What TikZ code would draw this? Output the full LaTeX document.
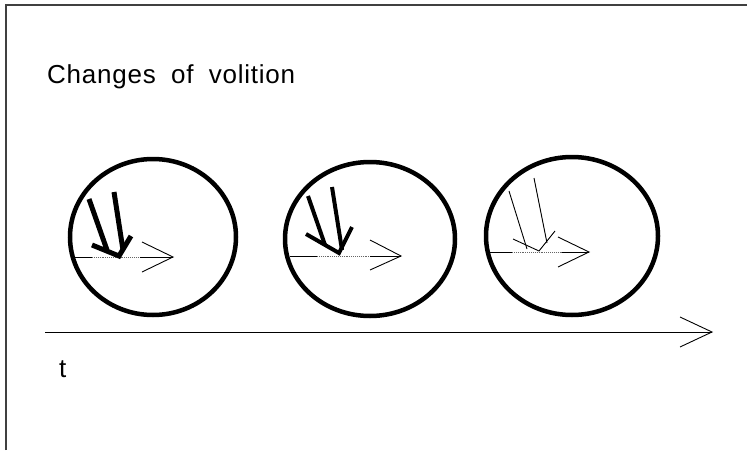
\documentclass[tikz,border=0pt]{standalone}
\usepackage{fontspec}
\setmainfont{Liberation Sans}[LetterSpace=3,WordSpace=1.9]
\usetikzlibrary{shapes.geometric}
\begin{document}
\begin{tikzpicture}[x=1pt,y=-1pt,
  frameline/.style={draw=black!75, line width=1.5pt},
  ring/.style={ellipse, draw=black, line width=4.5pt, inner sep=0pt},
  thin/.style={draw=black, line width=0.9pt},
  dots/.style={draw=black!60, line width=0.9pt, densely dotted},
  lbl/.style={font=\fontsize{26}{30}\selectfont, inner sep=0pt, anchor=base west}]
\useasboundingbox (0,0) rectangle (747,450);
\fill[white] (0,0) rectangle (747,450);
% frame
\coordinate (fbl) at (6,450);
\coordinate (ftl) at (6,5);
\coordinate (ftr) at (747,5);
\draw[frameline] (fbl) -- (ftl) -- (ftr);
% labels
\node[lbl] (title) at (47,83) {Changes of volition};
\node[lbl] (tlab) at (59,377) {t};
% timeline
\coordinate (t0) at (45,332);
\coordinate (t1) at (712,332);
\coordinate (tb1) at (680,317);
\coordinate (tb2) at (680,347);
\draw[thin] (t0) -- (t1);
\draw[thin] (tb1) -- (t1) -- (tb2);
% circles
\node[ring, minimum width=166pt, minimum height=156pt] (c1) at (153,237) {};
\node[ring, minimum width=170pt, minimum height=154pt] (c2) at (370,239) {};
\node[ring, minimum width=172pt, minimum height=158pt] (c3) at (572,236) {};
% --- circle 1 ---
\coordinate (h1a) at (75,257); \coordinate (h1b) at (92,257);
\coordinate (h1c) at (140,257); \coordinate (h1t) at (173,257);
\coordinate (h1u) at (142,242); \coordinate (h1d) at (142,272);
\draw[thin] (h1a) -- (h1b); \draw[dots] (h1b) -- (h1c); \draw[thin] (h1c) -- (h1t);
\draw[thin] (h1u) -- (h1t) -- (h1d);
\coordinate (s1a) at (89,199); \coordinate (s1b) at (107,250);
\coordinate (s1c) at (114,192); \coordinate (s1d) at (123,250);
\coordinate (a1l) at (92,245); \coordinate (a1r) at (131,236); \coordinate (a1t) at (119,256);
\draw[line width=5pt] (s1a) -- (s1b);
\draw[line width=5pt] (s1c) -- (s1d);
\draw[line width=5pt] (a1l) -- (a1t) -- (a1r);
% --- circle 2 ---
\coordinate (h2a) at (290,256); \coordinate (h2b) at (317,256);
\coordinate (h2c) at (370,256); \coordinate (h2t) at (401,256);
\coordinate (h2u) at (370,240); \coordinate (h2d) at (370,270);
\draw[thin] (h2a) -- (h2b); \draw[dots] (h2b) -- (h2c); \draw[thin] (h2c) -- (h2t);
\draw[thin] (h2u) -- (h2t) -- (h2d);
\coordinate (s2a) at (308,196); \coordinate (s2b) at (325,245);
\coordinate (s2c) at (332,187); \coordinate (s2d) at (342,250);
\coordinate (a2l) at (306,234); \coordinate (a2r) at (352,227); \coordinate (a2t) at (339,253);
\draw[line width=4pt] (s2a) -- (s2b);
\draw[line width=4pt] (s2c) -- (s2d);
\draw[line width=4pt] (a2l) -- (a2t) -- (a2r);
% --- circle 3 ---
\coordinate (h3a) at (490,252); \coordinate (h3b) at (512,252);
\coordinate (h3c) at (562,252); \coordinate (h3t) at (589,252);
\coordinate (h3u) at (558,237); \coordinate (h3d) at (558,267);
\draw[thin] (h3a) -- (h3b); \draw[dots] (h3b) -- (h3c); \draw[thin] (h3c) -- (h3t);
\draw[thin] (h3u) -- (h3t) -- (h3d);
\coordinate (s3a) at (509,191); \coordinate (s3b) at (527,249);
\coordinate (s3c) at (534,178); \coordinate (s3d) at (547,243);
\coordinate (a3l) at (513,239); \coordinate (a3r) at (555,231); \coordinate (a3t) at (539,251);
\draw[thin] (s3a) -- (s3b);
\draw[thin] (s3c) -- (s3d);
\draw[thin] (a3l) -- (a3t) -- (a3r);
\end{tikzpicture}
\end{document}
